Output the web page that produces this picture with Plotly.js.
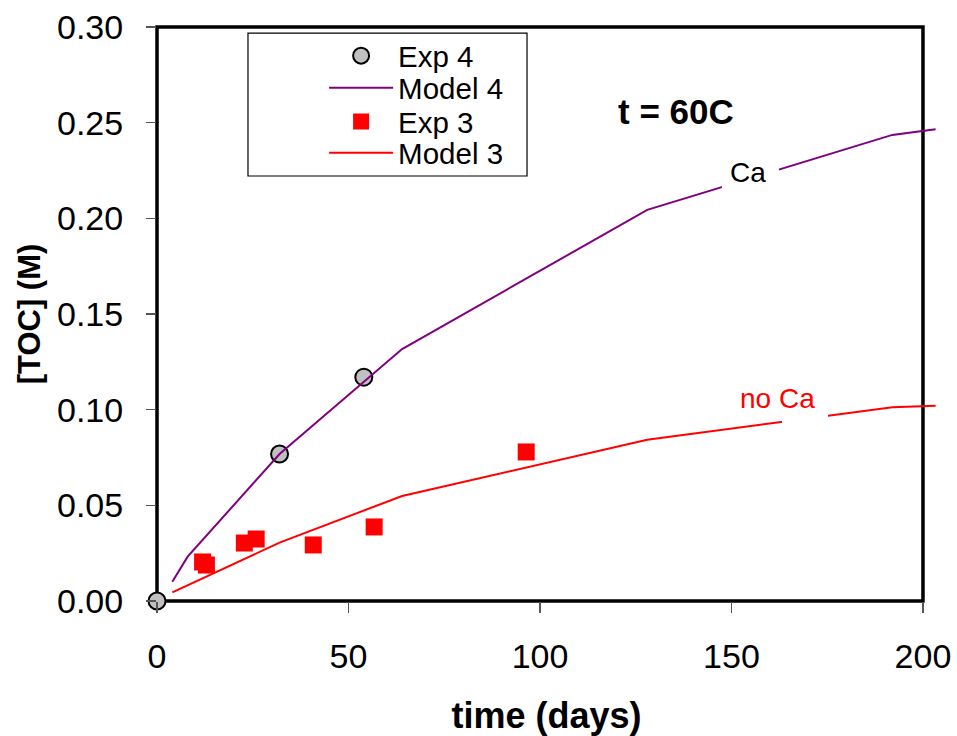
<!DOCTYPE html>
<html>
<head>
<meta charset="utf-8">
<script src="https://cdn.plot.ly/plotly-3.0.1.min.js"></script>
<style>
  html, body { margin: 0; padding: 0; background: #ffffff; }
  #chart { width: 957px; height: 736px; }
</style>
</head>
<body>
<div id="chart"></div>
<script>
// Experiment 4 (with Ca): measured TOC
const exp4Days = [0, 32, 54];
const exp4Toc = [0.000, 0.0768, 0.1170];

// Model 4 (with Ca)
const model4Days = [4, 8, 32, 64, 128, 192, 203.3];
const model4Toc = [0.0101, 0.0232, 0.0768, 0.1317, 0.2044, 0.2436, 0.2465];

// Experiment 3 (no Ca): measured TOC
const exp3Days = [11.9, 12.9, 22.8, 25.9, 40.8, 56.7, 96.4];
const exp3Toc = [0.0204, 0.0188, 0.0303, 0.0324, 0.0293, 0.0387, 0.0779];

// Model 3 (no Ca)
const model3Days = [4, 32, 64, 128, 192, 203.3];
const model3Toc = [0.0045, 0.0305, 0.0549, 0.0843, 0.1012, 0.1021];

const xTicks = [0, 50, 100, 150, 200];
const yTicks = [0.00, 0.05, 0.10, 0.15, 0.20, 0.25, 0.30];

const FONT = 'Arial, "Liberation Sans", sans-serif';

const traces = [
  {
    name: 'Exp 4', x: exp4Days, y: exp4Toc, mode: 'markers', type: 'scatter',
    cliponaxis: false, legend: 'legend',
    marker: { symbol: 'circle', size: 17, color: '#c0c0c0', line: { color: '#000000', width: 2 } }
  },
  {
    name: 'Model 4', x: model4Days, y: model4Toc, mode: 'lines', type: 'scatter',
    legend: 'legend2',
    line: { color: '#800080', width: 2 }
  },
  {
    name: 'Exp 3', x: exp3Days, y: exp3Toc, mode: 'markers', type: 'scatter',
    cliponaxis: false, legend: 'legend3',
    marker: { symbol: 'square', size: 17, color: '#ff0000', line: { width: 0 } }
  },
  {
    name: 'Model 3', x: model3Days, y: model3Toc, mode: 'lines', type: 'scatter',
    legend: 'legend4',
    line: { color: '#ff0000', width: 2 }
  }
];

// one legend per row so the rows sit at the same spacing as the boxed key
function legendRow(yPos) {
  return {
    x: 0.2145, y: yPos, xanchor: 'left', yanchor: 'middle',
    bgcolor: 'rgba(0,0,0,0)', borderwidth: 0,
    font: { family: FONT, size: 29.5, color: '#000000' },
    itemwidth: 64
  };
}

const layout = {
  width: 957,
  height: 736,
  margin: { l: 157, r: 21, t: 27, b: 135, pad: 0 },
  paper_bgcolor: '#ffffff',
  plot_bgcolor: 'rgba(0,0,0,0)',
  font: { family: FONT, color: '#000000' },
  showlegend: true,
  legend: legendRow(0.9495),
  legend2: legendRow(0.8937),
  legend3: legendRow(0.835),
  legend4: legendRow(0.7805),
  xaxis: {
    range: [0, 203.4],
    tickvals: xTicks,
    ticktext: xTicks.map(String),
    ticks: 'outside', ticklen: 11, tickwidth: 1.5, tickcolor: '#555555',
    ticklabelstandoff: 14,
    showgrid: false, zeroline: false, showline: false,
    tickfont: { family: FONT, size: 34, color: '#000000' },
    title: { text: '<b>time (days)</b>', font: { family: FONT, size: 36, color: '#000000' }, standoff: 31 },
    fixedrange: true
  },
  yaxis: {
    range: [0, 0.30],
    tickvals: yTicks,
    ticktext: yTicks.map(v => v.toFixed(2)),
    ticks: 'outside', ticklen: 10, tickwidth: 1.5, tickcolor: '#555555',
    ticklabelstandoff: 16,
    showgrid: false, zeroline: false, showline: false,
    tickfont: { family: FONT, size: 34, color: '#000000' },
    title: { text: '<b>[TOC] (M)</b>', font: { family: FONT, size: 31, color: '#000000' }, standoff: 7 },
    fixedrange: true
  },
  shapes: [
    // plot frame (x = 0..200 days, y = 0..0.30 M)
    { type: 'rect', xref: 'paper', yref: 'paper', x0: 0, x1: 200 / 203.4, y0: 0, y1: 1,
      line: { color: '#000000', width: 3.5 }, fillcolor: 'rgba(0,0,0,0)', layer: 'below' },
    // legend box
    { type: 'rect', xref: 'paper', yref: 'paper', x0: 0.1168, x1: 0.475, y0: 0.7404, y1: 0.9895,
      line: { color: '#000000', width: 1.2 }, fillcolor: 'rgba(0,0,0,0)', layer: 'below' },
    // label gaps in the model curves
    { type: 'rect', xref: 'x', yref: 'y', x0: 147.5, x1: 162.4, y0: 0.205, y1: 0.232,
      line: { width: 0 }, fillcolor: '#ffffff', layer: 'above' },
    { type: 'rect', xref: 'x', yref: 'y', x0: 163.2, x1: 175.2, y0: 0.088, y1: 0.0995,
      line: { width: 0 }, fillcolor: '#ffffff', layer: 'above' }
  ],
  annotations: [
    { text: '<b>t = 60C</b>', x: 135.5, y: 0.2556, xref: 'x', yref: 'y', showarrow: false,
      font: { family: FONT, size: 35, color: '#000000' } },
    { text: 'Ca', x: 154.3, y: 0.2242, xref: 'x', yref: 'y', showarrow: false,
      font: { family: FONT, size: 28, color: '#000000' } },
    { text: 'no Ca', x: 162.1, y: 0.1056, xref: 'x', yref: 'y', showarrow: false,
      font: { family: FONT, size: 28, color: '#ff0000' } }
  ]
};

Plotly.newPlot('chart', traces, layout, { displayModeBar: false, staticPlot: true });
</script>
</body>
</html>
